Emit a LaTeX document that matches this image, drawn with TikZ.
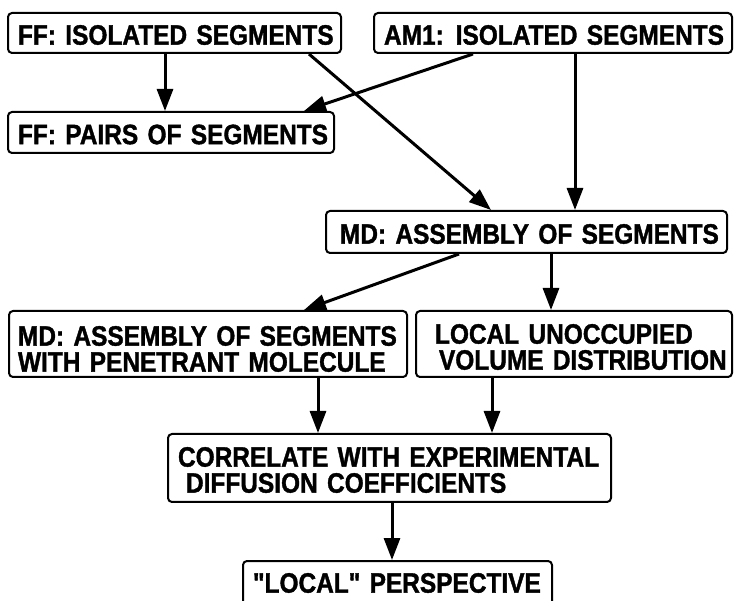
\documentclass[tikz,border=0pt]{standalone}
\usepackage{fontspec}
\newfontfamily\boxfont[FakeStretch=0.873,FakeBold=1.3]{Liberation Sans}
\usetikzlibrary{arrows.meta,calc}
% set a line of box text a little lower without changing its reported size
\newcommand\sunk[2]{\raisebox{-#1}[\height][\depth]{\mbox{#2}}}
\begin{document}
\begin{tikzpicture}[x=1pt,y=-1pt,
  stage/.style={draw, line width=2pt, rounded corners=4pt, align=left,
    anchor=center, inner ysep=0pt,
    font=\boxfont\bfseries\fontsize{28}{26}\selectfont},
  flow/.style={line width=3pt, -{Triangle[length=22pt,width=16pt]}}]
\useasboundingbox (0,0) rectangle (734,601);
\clip (0,0) rectangle (734,601);

% stages of the modelling scheme
\node[stage, text width=313pt, inner xsep=10pt, minimum height=40pt] (A) at (174.5,33)
  {\sunk{2pt}{FF: ISOLATED SEGMENTS}};
\node[stage, text width=338pt, inner xsep=10pt, minimum height=40pt] (B) at (553,33)
  {\sunk{2pt}{AM1:\hspace{-2pt} ISOLATED SEGMENTS}};
\node[stage, text width=306pt, inner xsep=10pt, minimum height=41pt] (C) at (171,132.5)
  {\sunk{2pt}{FF: PAIRS OF SEGMENTS}};
\node[stage, text width=373pt, inner xsep=14pt, minimum height=42pt] (D) at (526.5,232)
  {\sunk{2pt}{MD: ASSEMBLY OF SEGMENTS}};
\node[stage, text width=380pt, inner xsep=9pt, minimum height=66pt] (E) at (208,344)
  {\sunk{5pt}{MD: ASSEMBLY OF SEGMENTS}\\\sunk{5pt}{WITH PENETRANT MOLECULE}};
\node[stage, text width=278pt, inner xsep=19pt, minimum height=66pt] (F) at (574,344)
  {\sunk{3pt}{LOCAL UNOCCUPIED}\\\sunk{3pt}{\hspace*{4pt}VOLUME DISTRIBUTION}};
\node[stage, text width=423pt, inner xsep=10pt, minimum height=68pt] (G) at (389.5,468)
  {\sunk{2pt}{CORRELATE WITH EXPERIMENTAL}\\\sunk{2pt}{\hspace*{8pt}DIFFUSION COEFFICIENTS}};
\node[stage, text width=289pt, inner xsep=10pt, minimum height=44pt] (H) at (397.5,583)
  {\mbox{"LOCAL" PERSPECTIVE}};

% connectors
\draw[flow] ([xshift=-9.5pt]A.south) -- ([xshift=-6pt]C.north);
\draw[flow] ([xshift=-80pt]B.south) -- ([xshift=133pt]C.north);
\draw[flow] ([xshift=134.5pt]A.south) -- ([xshift=-35.5pt]D.north);
\draw[flow] ([xshift=22pt]B.south) -- ([xshift=48.5pt]D.north);
\draw[flow] ([xshift=-67.5pt]D.south) -- ([xshift=96pt]E.north);
\draw[flow] ([xshift=24.5pt]D.south) -- ([xshift=-23pt]F.north);
\draw[flow] ([xshift=110pt]E.south) -- ([xshift=-71.5pt]G.north);
\draw[flow] ([xshift=-82pt]F.south) -- ([xshift=102.5pt]G.north);
\draw[flow] ([xshift=2.5pt]G.south) -- ([xshift=-5.5pt]H.north);
\end{tikzpicture}
\end{document}
